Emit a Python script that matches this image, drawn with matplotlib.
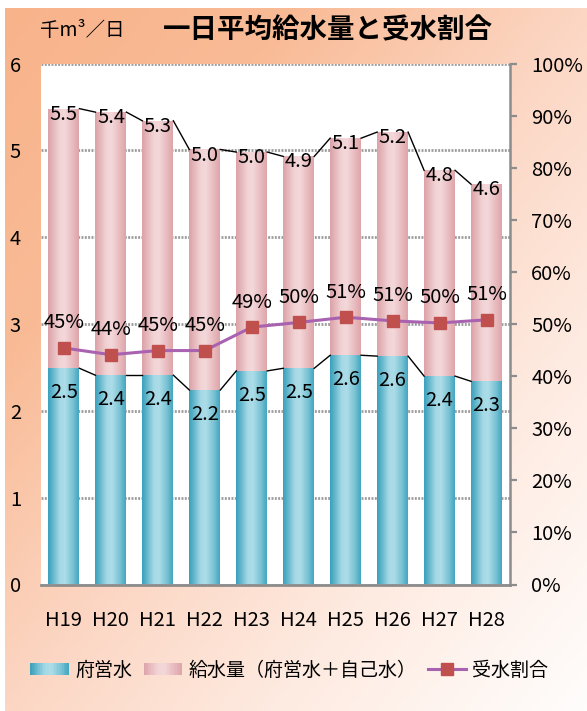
import numpy as np
import matplotlib
matplotlib.use("Agg")
import matplotlib.pyplot as plt
from matplotlib.colors import LinearSegmentedColormap
from matplotlib.patches import Rectangle
from matplotlib.lines import Line2D
from matplotlib.legend_handler import HandlerBase

plt.rcParams['font.family'] = ['Noto Sans CJK JP', 'DejaVu Sans']

# data
years = ['H19', 'H20', 'H21', 'H22', 'H23', 'H24', 'H25', 'H26', 'H27', 'H28']
total_supply = [5.48, 5.44, 5.34, 5.01, 4.98, 4.93, 5.14, 5.21, 4.77, 4.61]   # 給水量
prefectural = [2.49, 2.41, 2.41, 2.24, 2.46, 2.49, 2.64, 2.63, 2.40, 2.34]    # 府営水
ratio = [45.4, 44.1, 44.9, 44.9, 49.4, 50.3, 51.3, 50.6, 50.2, 50.8]         # 受水割合 (%)

W, H = 587, 711
BAR_W = 0.66
FS = 14.5

blue_cmap = LinearSegmentedColormap.from_list(
    'blue', [(0, '#3aa0bb'), (0.38, '#a5d9e6'), (0.55, '#acdde8'), (0.82, '#78c1d3'), (1, '#43a6c0')])
pink_cmap = LinearSegmentedColormap.from_list(
    'pink', [(0, '#dca2a8'), (0.38, '#f2d4d6'), (0.55, '#f3d7d9'), (0.82, '#e7b9bd'), (1, '#dda5aa')])
bg_cmap = LinearSegmentedColormap.from_list(
    'bg', [(0, '#f8b38b'), (0.25, '#f9bb96'), (0.5, '#fcd6c3'), (0.75, '#feece3'), (1, '#fffdfc')])

fig = plt.figure(figsize=(W / 100, H / 100), dpi=100)

# background panel with diagonal gradient
bg = fig.add_axes([5 / W, 0, 1 - 5 / W, 1 - 8 / H], zorder=-10)
gx, gy = np.meshgrid(np.linspace(0, 1, 300), np.linspace(0, 1, 300))
bg.imshow((gx + gy) / 2, cmap=bg_cmap, aspect='auto', extent=(0, 1, 1, 0), interpolation='bilinear')
bg.set_axis_off()

ax = fig.add_axes([40.5 / W, 126.5 / H, 469.5 / W, 521 / H])
ax.set_facecolor('white')
x = np.arange(len(years))


def gradient_bars(ax, values, cmap, zorder):
    bars = ax.bar(x, values, width=BAR_W, color='none', edgecolor='none', zorder=zorder)
    grad = np.linspace(0, 1, 64).reshape(1, -1)
    for b in bars:
        x0, y0, w, h = b.get_x(), b.get_y(), b.get_width(), b.get_height()
        im = ax.imshow(grad, cmap=cmap, aspect='auto', extent=(x0, x0 + w, y0, y0 + h),
                       zorder=zorder, interpolation='bilinear')
        im.set_clip_path(b)
    # series lines between bar tops
    for i in range(len(values) - 1):
        ax.plot([x[i] + BAR_W / 2, x[i + 1] - BAR_W / 2], [values[i], values[i + 1]],
                color='black', lw=1, zorder=zorder + 0.5)
    return bars


gradient_bars(ax, total_supply, pink_cmap, 2)
gradient_bars(ax, prefectural, blue_cmap, 3)

for xi, v in zip(x, total_supply):
    ax.annotate(f'{v:.1f}', (xi, v), xytext=(0, -4), textcoords='offset points',
                ha='center', va='center', fontsize=FS, zorder=6)
for xi, v in zip(x, prefectural):
    ax.annotate(f'{v:.1f}', (xi, v), xytext=(0, -17.5), textcoords='offset points',
                ha='center', va='center', fontsize=FS, zorder=6)

ax.set_xlim(-0.5, len(years) - 0.5)
ax.set_ylim(0, 6)
ax.set_yticks(range(0, 7))
ax.yaxis.grid(True, color='#9c9c9c', linestyle=(0, (0.7, 0.5)), linewidth=2, zorder=1)
ax.set_axisbelow(True)
ax.set_xticks(x)
ax.set_xticklabels(years)
ax.tick_params(axis='x', length=0, pad=18, labelsize=FS)
ax.tick_params(axis='y', length=0, pad=14, labelsize=FS)
for s in ['top', 'left', 'right']:
    ax.spines[s].set_visible(False)
ax.spines['bottom'].set_color('#8c8c8c')
ax.spines['bottom'].set_linewidth(2)
ax.spines['bottom'].set_zorder(7)

ax2 = ax.twinx()
ax2.plot(x, ratio, color='#a962b0', lw=2.2, marker='s', ms=8.5,
         mfc='#c0504d', mec='#c0504d', zorder=8)
for xi, v in zip(x, ratio):
    ax2.annotate(f'{v:.0f}%', (xi, v), xytext=(0, 18), textcoords='offset points',
                 ha='center', va='center', fontsize=FS, zorder=9)
ax2.set_ylim(0, 100)
ax2.set_yticks(range(0, 101, 10))
ax2.set_yticklabels([f'{t}%' for t in range(0, 101, 10)])
ax2.tick_params(axis='y', direction='out', length=4.8, width=1.6, color='#8c8c8c',
                pad=10.5, labelsize=FS)
for s in ['top', 'left', 'bottom']:
    ax2.spines[s].set_visible(False)
ax2.spines['right'].set_color('#8c8c8c')
ax2.spines['right'].set_linewidth(1.8)

# titles
fig.text(40 / W, 1 - 30 / H, '千m³／日', fontsize=14, va='center', ha='left')
fig.text(163 / W, 1 - 30 / H, '一日平均給水量と受水割合', fontsize=19.8, fontweight='bold',
         va='center', ha='left')


class GradientHandler(HandlerBase):
    def __init__(self, cmap):
        super().__init__()
        self.cmap = cmap

    def create_artists(self, legend, orig_handle, xdescent, ydescent, width, height, fontsize, trans):
        n = 24
        arts = []
        for i in range(n):
            r = Rectangle((-xdescent + width * i / n, -ydescent), width / n + 0.3, height,
                          facecolor=self.cmap((i + 0.5) / n), edgecolor='none', transform=trans)
            arts.append(r)
        return arts


h_blue = Rectangle((0, 0), 1, 1)
h_pink = Rectangle((0, 0), 1, 1, label='x')
h_line = Line2D([], [], color='#a962b0', lw=2.2, marker='s', ms=8.5, mfc='#c0504d', mec='#c0504d')
fig.legend([h_blue, h_pink, h_line], ['府営水', '給水量（府営水＋自己水）', '受水割合'],
           handler_map={h_blue: GradientHandler(blue_cmap), h_pink: GradientHandler(pink_cmap)},
           loc='center', bbox_to_anchor=(0.493, 1 - 670 / H), ncol=3, frameon=False,
           fontsize=13.7, handlelength=2.0, handleheight=0.6, handletextpad=0.35,
           columnspacing=0.6, borderaxespad=0)

fig.savefig('out.png', dpi=100)
